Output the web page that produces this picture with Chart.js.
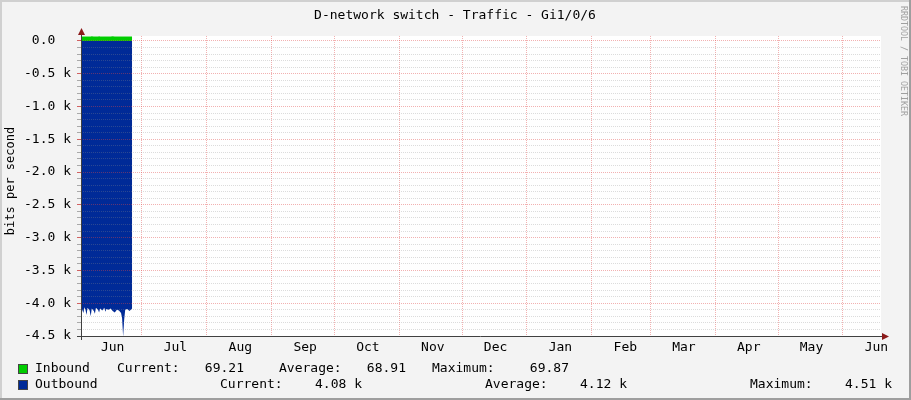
<!DOCTYPE html>
<html>
<head>
<meta charset="utf-8">
<script src="https://cdn.jsdelivr.net/npm/chart.js@4.4.1/dist/chart.umd.min.js"></script>
<style>
html, body { margin: 0; padding: 0; background: #f3f3f3; }
#wrap { width: 911px; height: 400px; position: relative; }
</style>
</head>
<body>
<div id="wrap"><canvas id="traffic" width="911" height="400"></canvas></div>
<script>
const chartTitle = 'D-network switch - Traffic - Gi1/0/6';
const yAxisTitle = 'bits per second';
const watermark = 'RRDTOOL / TOBI OETIKER';

// x values are days counted from 1 June
const xMin = 0.86;
const xMax = 383.2;
const monthStarts = [30, 61, 92, 122, 153, 183, 214, 245, 273, 304, 334, 365];
const monthMids = [16, 46, 77, 108, 138, 169, 199, 230, 261, 289, 320, 350, 381];
const monthLabels = ['Jun', 'Jul', 'Aug', 'Sep', 'Oct', 'Nov', 'Dec', 'Jan', 'Feb', 'Mar', 'Apr', 'May', 'Jun'];

const yMajor = [0, -500, -1000, -1500, -2000, -2500, -3000, -3500, -4000, -4500];
const yLabels = ['0.0\u00a0\u00a0', '-0.5 k', '-1.0 k', '-1.5 k', '-2.0 k', '-2.5 k', '-3.0 k', '-3.5 k', '-4.0 k', '-4.5 k'];

const sampleDays = [1.3, 2, 2.5, 3, 3.5, 4, 5, 5.5, 6, 7, 7.5, 8, 9, 9.5, 10, 11, 12, 12.5, 13, 14, 15, 16, 17, 18, 19, 20, 20.5, 21, 21.5, 22, 23, 24, 25.3];
const inbound = [69.2, 68.6, 68.9, 69.1, 68.7, 68.8, 69.0, 68.5, 69.3, 68.9, 68.7, 69.0, 68.8, 69.4, 68.6, 68.9, 69.1, 68.7, 68.8, 69.0, 68.9, 69.87, 68.8, 68.7, 69.0, 68.9, 68.6, 69.1, 68.8, 68.9, 69.0, 68.7, 69.21];
const outbound = [-4090, -4150, -4060, -4100, -4180, -4070, -4110, -4200, -4080, -4120, -4160, -4070, -4100, -4140, -4080, -4110, -4070, -4130, -4090, -4100, -4080, -4120, -4140, -4100, -4110, -4150, -4230, -4510, -4250, -4100, -4090, -4120, -4080];

const inboundStats = ['69.21', '68.91', '69.87'];
const outboundStats = ['4.08 k', '4.12 k', '4.51 k'];

const GREEN = '#00cc00';
const BLUE = '#002a97';
const MAJOR = 'rgba(225, 70, 70, 0.42)';
const MINOR = 'rgba(140, 140, 140, 0.3)';
const FONT = '"DejaVu Sans Mono", monospace';

function points(vals) {
    return sampleDays.map((d, i) => ({ x: d, y: vals[i] }));
}

const rrdLook = {
    id: 'rrdLook',
    beforeDraw(chart) {
        const { ctx, chartArea: a } = chart;
        ctx.save();
        ctx.fillStyle = '#f3f3f3';
        ctx.fillRect(0, 0, 911, 400);
        ctx.fillStyle = '#fff';
        ctx.fillRect(a.left, a.top, a.right - a.left, a.bottom - a.top);
        // 3d frame
        ctx.fillStyle = '#d0d0d0';
        ctx.fillRect(0, 0, 911, 2);
        ctx.fillRect(0, 0, 2, 400);
        ctx.fillStyle = '#9e9e9e';
        ctx.fillRect(909, 0, 2, 400);
        ctx.fillRect(0, 398, 911, 2);
        ctx.restore();
    },
    afterDraw(chart) {
        const { ctx, chartArea: a } = chart;
        ctx.save();
        // axes with arrows
        ctx.strokeStyle = '#404040';
        ctx.lineWidth = 1;
        ctx.beginPath();
        ctx.moveTo(77, a.bottom + 0.5);
        ctx.lineTo(884, a.bottom + 0.5);
        ctx.moveTo(a.left + 0.5, 340);
        ctx.lineTo(a.left + 0.5, 33);
        ctx.stroke();
        ctx.fillStyle = '#8b1a1a';
        ctx.beginPath();
        ctx.moveTo(889, a.bottom + 0.5);
        ctx.lineTo(882, a.bottom - 3);
        ctx.lineTo(882, a.bottom + 4);
        ctx.closePath();
        ctx.fill();
        ctx.beginPath();
        ctx.moveTo(a.left + 0.5, 28);
        ctx.lineTo(a.left - 3, 35);
        ctx.lineTo(a.left + 4, 35);
        ctx.closePath();
        ctx.fill();

        // title
        ctx.fillStyle = '#000';
        ctx.textBaseline = 'middle';
        ctx.textAlign = 'center';
        ctx.font = '13px ' + FONT;
        ctx.fillText(chartTitle, 455, 15.5);

        // y axis title
        ctx.save();
        ctx.translate(11, 181);
        ctx.rotate(-Math.PI / 2);
        ctx.font = '12px ' + FONT;
        ctx.fillText(yAxisTitle, 0, 0);
        ctx.restore();

        // watermark
        ctx.save();
        ctx.translate(903, 6);
        ctx.rotate(Math.PI / 2);
        ctx.textAlign = 'left';
        ctx.fillStyle = '#a0a0a0';
        ctx.font = '8.3px ' + FONT;
        ctx.fillText(watermark, 0, 0);
        ctx.restore();

        // legend
        ctx.font = '13px ' + FONT;
        ctx.strokeStyle = '#444';
        ctx.fillStyle = GREEN;
        ctx.fillRect(18, 364, 9, 9);
        ctx.strokeRect(18.5, 364.5, 9, 9);
        ctx.fillStyle = BLUE;
        ctx.fillRect(18, 380, 9, 9);
        ctx.strokeRect(18.5, 380.5, 9, 9);

        ctx.fillStyle = '#000';
        ctx.textAlign = 'left';
        ctx.fillText('Inbound', 35, 368.5);
        ctx.fillText('Current:', 117, 368.5);
        ctx.fillText('Average:', 279, 368.5);
        ctx.fillText('Maximum:', 432, 368.5);
        ctx.fillText('Outbound', 35, 384.5);
        ctx.fillText('Current:', 220, 384.5);
        ctx.fillText('Average:', 485, 384.5);
        ctx.fillText('Maximum:', 750, 384.5);
        ctx.textAlign = 'right';
        ctx.fillText(inboundStats[0], 244, 368.5);
        ctx.fillText(inboundStats[1], 406, 368.5);
        ctx.fillText(inboundStats[2], 569, 368.5);
        ctx.fillText(outboundStats[0], 362, 384.5);
        ctx.fillText(outboundStats[1], 627, 384.5);
        ctx.fillText(outboundStats[2], 892, 384.5);
        ctx.restore();
    }
};

new Chart(document.getElementById('traffic'), {
    type: 'line',
    data: {
        datasets: [{
            label: 'Inbound',
            data: points(inbound),
            backgroundColor: GREEN,
            borderWidth: 0,
            pointRadius: 0,
            fill: 'origin'
        }, {
            label: 'Outbound',
            data: points(outbound),
            backgroundColor: BLUE,
            borderWidth: 0,
            pointRadius: 0,
            fill: 'origin'
        }]
    },
    options: {
        responsive: false,
        animation: false,
        layout: { padding: { top: 36, right: 30, left: 0, bottom: 0 } },
        plugins: { legend: { display: false }, tooltip: { enabled: false } },
        scales: {
            x: {
                type: 'linear',
                position: 'bottom',
                min: xMin,
                max: xMax,
                afterBuildTicks: (s) => { s.ticks = monthStarts.map(v => ({ value: v })); },
                afterFit: (s) => { s.height = 0; },
                ticks: { display: false },
                border: { display: false, dash: [1, 1] },
                grid: { color: MAJOR, drawTicks: false, z: 1 }
            },
            xl: {
                type: 'linear',
                position: 'bottom',
                min: xMin,
                max: xMax,
                afterBuildTicks: (s) => { s.ticks = monthMids.map(v => ({ value: v })); },
                afterFit: (s) => { s.height = 64; },
                ticks: {
                    autoSkip: false,
                    maxRotation: 0,
                    padding: 4,
                    color: '#000',
                    font: { family: FONT, size: 13 },
                    callback: (v, i) => monthLabels[i]
                },
                border: { display: false },
                grid: { display: false, drawTicks: false }
            },
            y: {
                type: 'linear',
                min: -4500,
                max: 75,
                afterBuildTicks: (s) => {
                    const t = [];
                    for (let v = -4500; v <= 0; v += 100) t.push({ value: v });
                    s.ticks = t;
                },
                afterFit: (s) => { s.width = 81; },
                ticks: {
                    autoSkip: false,
                    padding: 6,
                    color: '#000',
                    font: { family: FONT, size: 13 },
                    callback: (v) => {
                        const i = yMajor.indexOf(Math.round(v));
                        return i >= 0 ? yLabels[i] : '';
                    }
                },
                border: { display: false, dash: [1, 1] },
                grid: {
                    z: 1,
                    tickLength: 4,
                    tickBorderDash: [],
                    color: (c) => (Math.round(c.tick.value) % 500 === 0 ? MAJOR : MINOR),
                    tickColor: (c) => (Math.round(c.tick.value) % 500 === 0 ? 'rgba(200,60,60,0.8)' : 'rgba(120,120,120,0.6)')
                }
            }
        }
    },
    plugins: [rrdLook]
});
</script>
</body>
</html>
